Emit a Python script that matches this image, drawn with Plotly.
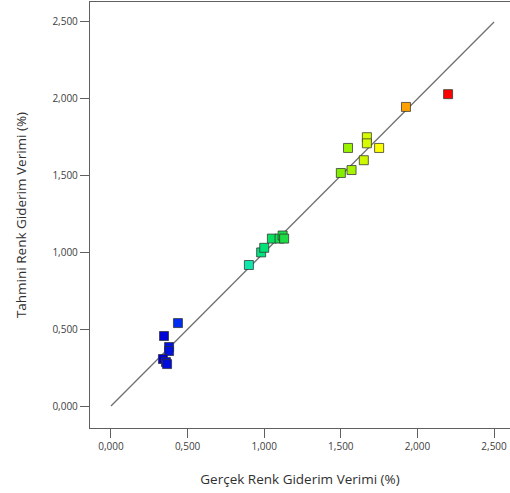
import plotly.graph_objects as go

# Actual vs. predicted colour removal efficiency (%)
actual = [0.437, 0.346, 0.379, 0.379, 0.339, 0.359, 0.366,
          0.900, 0.980, 1.000, 1.050, 1.100, 1.120, 1.130,
          1.500, 1.570, 1.650, 1.547, 1.670, 1.670, 1.750,
          1.925, 2.200]
predicted = [0.540, 0.456, 0.384, 0.358, 0.306, 0.286, 0.273,
             0.918, 1.000, 1.030, 1.090, 1.090, 1.110, 1.090,
             1.517, 1.536, 1.600, 1.680, 1.750, 1.710, 1.680,
             1.947, 2.030]

tick_vals = [0.0, 0.5, 1.0, 1.5, 2.0, 2.5]
x_title = "Gerçek Renk Giderim Verimi (%)"
y_title = "Tahmini Renk Giderim Verimi (%)"

colorscale = [
    [0.00, "#0000d4"],
    [0.08, "#0044ff"],
    [0.29, "#10e8b8"],
    [0.36, "#00e070"],
    [0.43, "#20dc40"],
    [0.62, "#80ee00"],
    [0.76, "#ffff00"],
    [0.86, "#ff9900"],
    [1.00, "#ff0000"],
]

fig = go.Figure()

# 1:1 reference line
fig.add_trace(go.Scatter(
    x=[tick_vals[0], tick_vals[-1]], y=[tick_vals[0], tick_vals[-1]],
    mode="lines", line=dict(color="#707070", width=1.3),
    hoverinfo="skip", showlegend=False,
))

fig.add_trace(go.Scatter(
    x=actual, y=predicted, mode="markers",
    marker=dict(symbol="square", size=9, color=actual,
                colorscale=colorscale, cmin=min(actual), cmax=max(actual),
                line=dict(color="rgba(50,50,50,0.75)", width=1)),
    showlegend=False,
))

axis_common = dict(
    tickvals=tick_vals, tickformat=".3f",
    showgrid=False, zeroline=False,
    showline=True, linecolor="#606060", linewidth=1.3,
    ticks="outside", ticklen=9, tickcolor="#606060", tickwidth=1.2,
    tickfont=dict(family="Open Sans", size=10, color="#404040"),
)

fig.update_layout(
    width=510, height=493,
    margin=dict(l=90, r=0, t=2, b=65),
    paper_bgcolor="white", plot_bgcolor="white",
    separators=",.",
    xaxis=dict(axis_common, range=[-0.137, 2.604], mirror=True,
               title=dict(text=x_title, standoff=22,
                          font=dict(family="Open Sans", size=13.5, color="#303030"))),
    yaxis=dict(axis_common, range=[-0.143, 2.630],
               title=dict(text=y_title, standoff=22,
                          font=dict(family="Open Sans", size=13.5, color="#303030"))),
)

fig.write_html("out.html")
